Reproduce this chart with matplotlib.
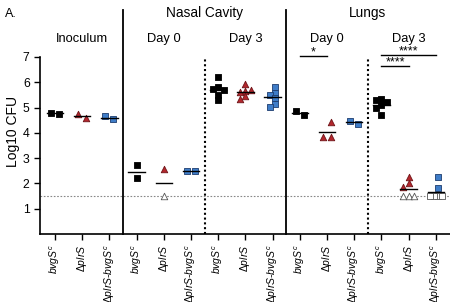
import matplotlib
matplotlib.use("Agg")
import matplotlib.pyplot as plt
import numpy as np

plt.rcParams["font.family"] = ["Liberation Sans", "DejaVu Sans"]
plt.rcParams["mathtext.fontset"] = "custom"
plt.rcParams["mathtext.rm"] = "Liberation Sans"
plt.rcParams["mathtext.it"] = "Liberation Sans:italic"

LOD = 1.5

# log10 CFU per group (filled symbols) and number of samples below detection
inoc_bvgs = [4.75, 4.80]
inoc_plrs = [4.58, 4.74]
inoc_comp = [4.55, 4.65]
nc0_bvgs = [2.73, 2.21]
nc0_plrs = [2.57]
nc0_comp = [2.50, 2.50]
nc3_bvgs = [6.22, 5.80, 5.75, 5.70, 5.48, 5.28]
nc3_plrs = [5.95, 5.65, 5.60, 5.70, 5.45, 5.35]
nc3_comp = [5.80, 5.57, 5.50, 5.38, 5.15, 5.02]
lu0_bvgs = [4.70, 4.88]
lu0_plrs = [4.43, 3.83, 3.83]
lu0_comp = [4.35, 4.47]
lu3_bvgs = [5.32, 5.30, 5.20, 5.10, 4.97, 4.72]
lu3_plrs = [2.25, 2.00, 1.85]
lu3_comp = [2.25, 1.82]

groups = [inoc_bvgs, inoc_plrs, inoc_comp,
          nc0_bvgs, nc0_plrs, nc0_comp,
          nc3_bvgs, nc3_plrs, nc3_comp,
          lu0_bvgs, lu0_plrs, lu0_comp,
          lu3_bvgs, lu3_plrs, lu3_comp]
below_lod = [0, 0, 0, 0, 1, 0, 0, 0, 0, 0, 0, 0, 0, 3, 4]

strain_labels = [r"$\mathit{bvgS^{c}}$", r"$\mathit{ΔplrS}$",
                 r"$\mathit{ΔplrS}$-$\mathit{bvgS^{c}}$"]
tick_labels = strain_labels * 5

colors = {"face": ["black", "#b3272d", "#3f7dc8"],
          "edge": ["black", "#6e1418", "#1e3d6e"],
          "marker": ["s", "^", "s"]}


def swarm(values, rx=0.3, ry=0.2, step=0.3):
    """Decale horizontalement les points qui se chevauchent."""
    placed = []
    for v in values:
        k = 0
        while True:
            cand = [0.0] if k == 0 else [-k * step, k * step]
            ok = None
            for dx in cand:
                if all(abs(dx - px) >= rx - 1e-9 or abs(v - py) >= ry for px, py in placed):
                    ok = dx
                    break
            if ok is not None:
                placed.append((ok, v))
                break
            k += 1
    offs = np.array([p[0] for p in placed])
    if len(offs) > 1:
        offs = offs - (offs.max() + offs.min()) / 2
    return offs


fig = plt.figure(figsize=(4.5, 3.02), dpi=100)
ax = fig.add_axes([0.089, 0.225, 0.911, 0.754])

for i, vals in enumerate(groups):
    k = i % 3
    n_open = below_lod[i]
    all_vals = list(vals) + [LOD] * n_open
    if n_open >= 4:
        offs = swarm(all_vals, rx=0.14, step=0.14)
    elif len(all_vals) >= 6:
        offs = swarm(all_vals, rx=0.2, ry=0.15, step=0.2)
    else:
        offs = swarm(all_vals)
    nf = len(vals)
    ax.scatter(i + offs[:nf], vals, marker=colors["marker"][k], s=22,
               facecolor=colors["face"][k], edgecolor=colors["edge"][k],
               linewidth=0.6, zorder=3)
    if n_open:
        ax.scatter(i + offs[nf:], [LOD] * n_open, marker=colors["marker"][k], s=22,
                   facecolor="white", edgecolor="#555555", linewidth=0.6, zorder=3)
    m = np.mean(all_vals)
    ax.plot([i - 0.3, i + 0.3], [m, m], color="black", lw=1.0, zorder=4)

# limite de detection
ax.axhline(LOD, color="#888888", lw=0.8, ls=(0, (1.5, 1.5)), zorder=1)

# separateurs
for x in (2.5, 8.5):
    ax.plot([x, x], [0, 8.85], color="black", lw=1.3, clip_on=False)
for x in (5.5, 11.5):
    ax.plot([x, x], [0, 7.0], color="black", lw=1.5, ls=(0, (1, 1.3)))

ax.text(5.5, 8.73, "Nasal Cavity", ha="center", va="center", fontsize=9.8)
ax.text(11.5, 8.73, "Lungs", ha="center", va="center", fontsize=9.8)
for x, lab in ((1, "Inoculum"), (4, "Day 0"), (7, "Day 3"), (10, "Day 0"), (13, "Day 3")):
    ax.text(x, 7.7, lab, ha="center", va="center", fontsize=9.3)

# significativite
for x0, x1, y, stars in ((9, 10, 7.03, "*"), (12, 14, 7.07, "****"), (12, 13, 6.63, "****")):
    ax.plot([x0, x1], [y, y], color="black", lw=1.0)
    ax.text((x0 + x1) / 2, y - 0.08, stars, ha="center", va="bottom", fontsize=9)

ax.set_xlim(-0.55, 14.52)
ax.set_ylim(0, 9)
ax.set_yticks([1, 2, 3, 4, 5, 6, 7])
ax.set_xticks(range(15))
ax.set_xticklabels(tick_labels, rotation=90, fontsize=7.5)
ax.tick_params(axis="y", labelsize=8.8, width=1.0, length=4)
ax.tick_params(axis="x", width=1.0, length=4)
ax.spines["top"].set_visible(False)
ax.spines["right"].set_visible(False)
ax.spines["left"].set_bounds(0, 7)
ax.spines["left"].set_linewidth(1.2)
ax.spines["bottom"].set_linewidth(1.2)
ax.set_ylabel("Log10 CFU", fontsize=10)
ax.yaxis.set_label_coords(-0.05, 0.45)

fig.text(0.012, 0.975, "A.", ha="left", va="top", fontsize=9)

fig.savefig("out.png", dpi=100)
